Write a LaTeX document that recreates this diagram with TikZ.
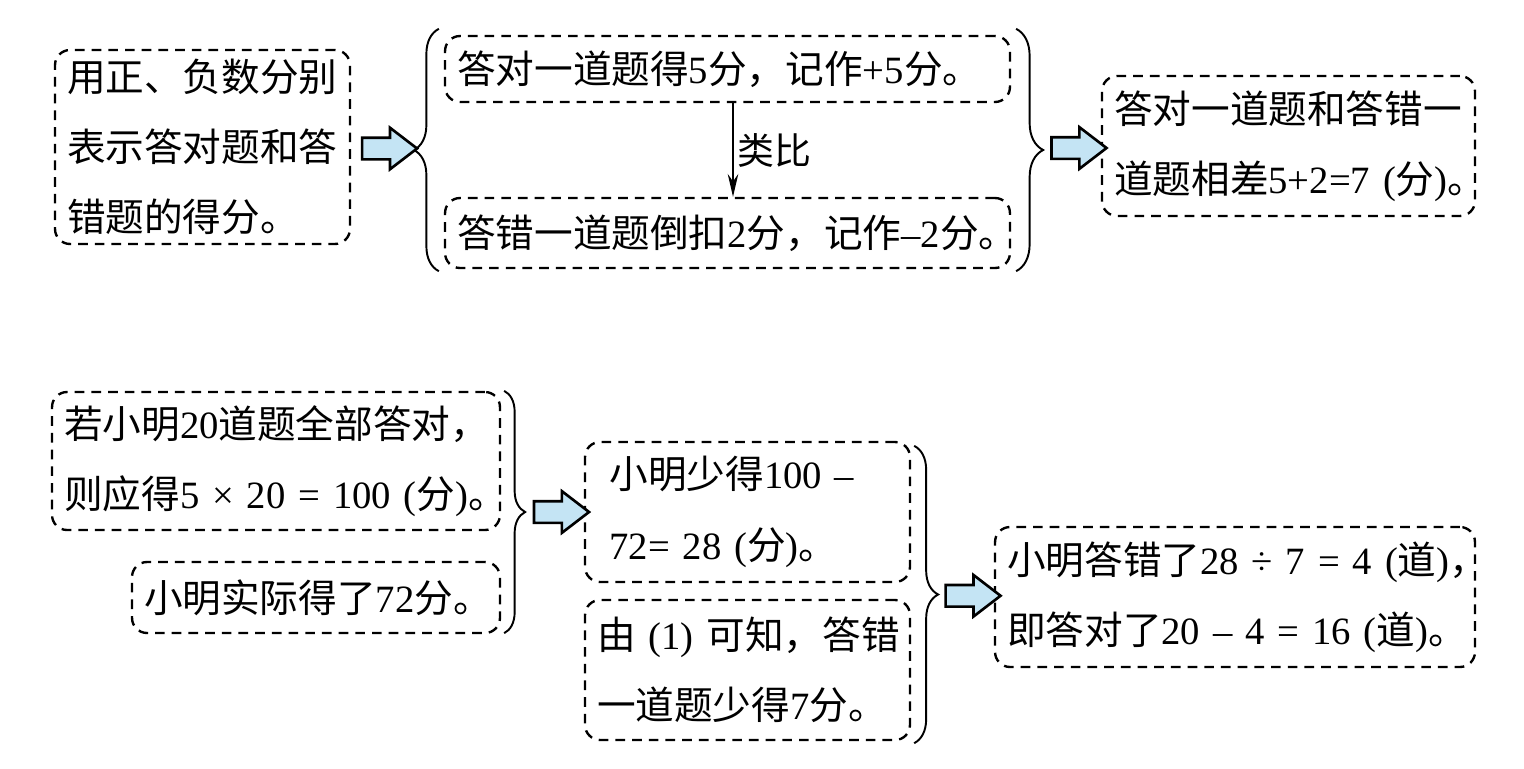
\documentclass[tikz,border=0pt]{standalone}
\usepackage{fontspec}
\setmainfont{Noto Sans CJK SC}
\newfontfamily\numfont{Liberation Serif}
\usetikzlibrary{shapes.arrows,arrows.meta,positioning,calc,decorations.pathreplacing}
\definecolor{arrowblue}{RGB}{196,228,244}
\newcommand{\dg}[1]{{\numfont #1}}
\tikzset{
  dashbox/.style={draw, line width=1.35pt, dash pattern=on 5.5pt off 4pt,
    rounded corners=0.3cm, align=left, inner xsep=0.24cm, inner ysep=0pt,
    font=\fontsize{22}{40}\selectfont},
  bracepath/.style={decorate, decoration={brace, amplitude=#1}, line width=1.1pt},
  blockarrow/.style={shape=single arrow, draw, line width=1.5pt, fill=arrowblue,
    inner xsep=0pt, inner ysep=0.19cm, single arrow head extend=0.2cm,
    single arrow tip angle=75, minimum height=1.1cm}
}

\begin{document}
\begin{tikzpicture}[x=0.02cm, y=-0.02cm]
    \useasboundingbox (0,0) rectangle (1524,768);

    % Upper row
    \node[dashbox, text width=5.42cm, minimum height=3.88cm] (mark) at (202.5,147)
        {\mbox{用正、负数分别}\\\mbox{表示答对题和答}\\\mbox{错题的得分。}};
    \node[dashbox, text width=10.82cm, minimum height=1.32cm] (right1) at (727.5,69)
        {\mbox{答对一道题得\dg{5}分，记作\dg{+5}分。}};
    \node[dashbox, text width=10.82cm, minimum height=1.4cm] (wrong1) at (727.5,233)
        {\mbox{答错一道题倒扣\dg{2}分，记作\dg{–2}分。}};
    \node[dashbox, text width=6.98cm, minimum height=2.8cm] (diff) at (1288.5,146)
        {\mbox{答对一道题和答错一}\\\mbox{道题相差\dg{5+2=7 (}分\dg{)}。}};

    % Analogy arrow
    \draw[-{Stealth[length=13pt,width=6pt]}, line width=0.9pt]
        ($(right1.south)+(5.5,0)$) -- ($(wrong1.north)+(5.5,0)$)
        node[midway, right, inner sep=2pt, font=\fontsize{21}{24}\selectfont] (ana) {类比};

    % Braces round the two rules
    \coordinate (bLtop) at ($(right1.north west)+(-5,-6)$);
    \coordinate (bLbot) at ($(wrong1.south west)+(-5,2)$);
    \draw[bracepath=0.5cm] (bLbot) -- (bLtop);
    \coordinate (tipL) at ($(bLbot)!0.5!(bLtop)+(-25,0)$);

    \coordinate (bRtop) at ($(right1.north east)+(5,-6)$);
    \coordinate (bRbot) at ($(wrong1.south east)+(5,2)$);
    \draw[bracepath=0.54cm] (bRtop) -- (bRbot);
    \coordinate (tipR) at ($(bRtop)!0.5!(bRbot)+(27,0)$);

    \node[blockarrow] (arr1) at ($(mark.east)!0.5!(tipL)$) {};
    \node[blockarrow] (arr2) at ($(tipR)!0.5!(diff.west)$) {};

    % Lower row
    \node[dashbox, text width=8.48cm, minimum height=2.76cm] (full) at (276,461)
        {\mbox{若小明\dg{20}道题全部答对，}\\\mbox{则应得\dg{5 × 20 = 100 (}分\dg{)}。}};
    \node[dashbox, text width=6.88cm, minimum height=1.42cm] (actual) at (316,597.5)
        {\mbox{小明实际得了\dg{72}分。}};
    \node[dashbox, text width=6.02cm, minimum height=2.8cm] (less) at (747.5,512)
        {\mbox{\hspace*{0.25cm}小明少得\dg{100 –}}\\\mbox{\hspace*{0.25cm}\dg{72= 28 (}分\dg{)}。}};
    \node[dashbox, text width=6.02cm, minimum height=2.8cm] (each) at (747.5,670)
        {\mbox{由\dg{ (1) }可知，答错}\\\mbox{一道题少得\dg{7}分。}};
    \node[dashbox, text width=9.12cm, minimum height=2.8cm] (result) at (1235,597)
        {\mbox{小明答错了\dg{28 ÷ 7 = 4 (}道\dg{)}，}\\\mbox{即答对了\dg{20 – 4 = 16 (}道\dg{)}。}};

    \coordinate (bDtop) at ($(full.north east)+(3,0)$);
    \coordinate (bDbot) at ($(actual.south east)+(3,-1)$);
    \draw[bracepath=0.42cm] (bDtop) -- (bDbot);
    \coordinate (tipD) at ($(bDtop)!0.5!(bDbot)+(21,0)$);

    \coordinate (bEtop) at ($(less.north east)+(3,5)$);
    \coordinate (bEbot) at ($(each.south east)+(3,2)$);
    \draw[bracepath=0.48cm] (bEtop) -- (bEbot);
    \coordinate (tipE) at ($(bEtop)!0.5!(bEbot)+(24,0)$);

    \node[blockarrow] (arr3) at ($(tipD)!0.5!(less.west)$) {};
    \node[blockarrow] (arr4) at ($(tipE)!0.5!(result.west)$) {};
\end{tikzpicture}
\end{document}
